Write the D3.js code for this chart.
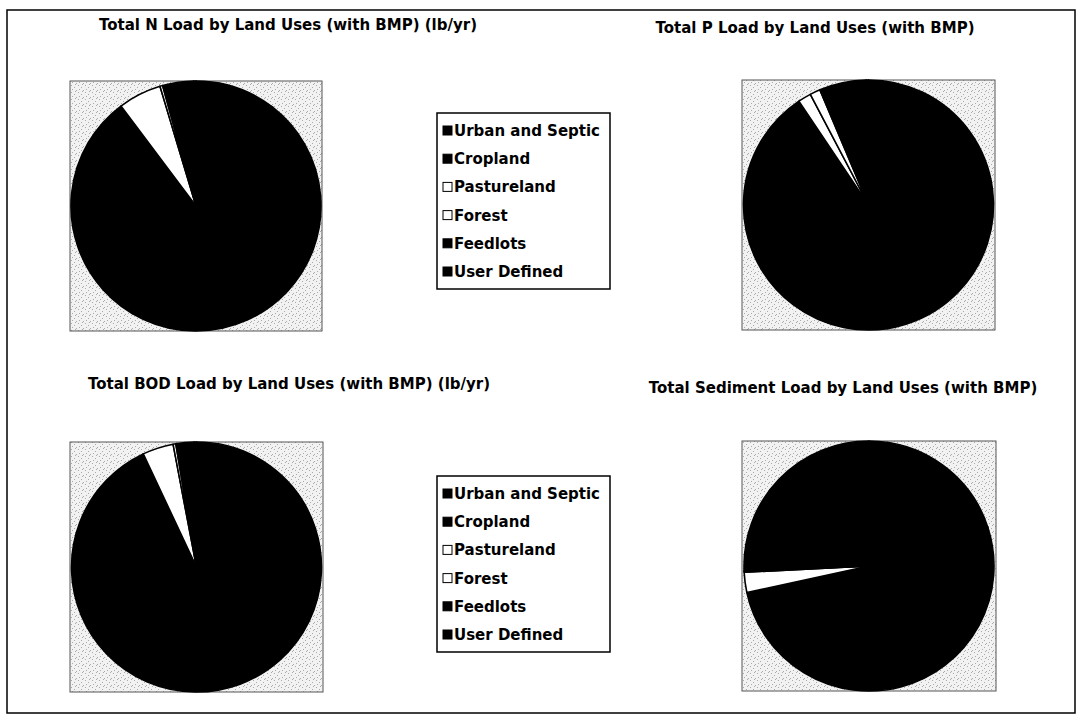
<!DOCTYPE html>
<html>
<head>
<meta charset="utf-8">
<script src="https://cdn.jsdelivr.net/npm/d3@7"></script>
<style>
  html, body { margin: 0; padding: 0; background: #fff; }
  svg { display: block; }
  text { font-family: "DejaVu Sans", "Liberation Sans", Arial, sans-serif; font-weight: bold; fill: #000; }
</style>
</head>
<body>
<svg id="chart" width="1078" height="719"></svg>
<script>
// ---- data ----
const categories = ["Urban and Septic", "Cropland", "Pastureland", "Forest", "Feedlots", "User Defined"];
const categoryFills = ["#000000", "#000000", "#ffffff", "#ffffff", "#000000", "#000000"];

const chartTitles = [
  "Total N Load by Land Uses (with BMP) (lb/yr)",
  "Total P Load by Land Uses (with BMP)",
  "Total BOD Load by Land Uses (with BMP) (lb/yr)",
  "Total Sediment Load by Land Uses (with BMP)"
];

// shares (%), in category order
const nLoad        = [10.5, 79.25, 5.6, 0.35, 4.0, 0.3];
const pLoad        = [30.0, 60.6, 1.7, 1.35, 6.05, 0.3];
const bodLoad      = [20.0, 73.0, 4.0, 0.35, 2.35, 0.3];
const sedimentLoad = [20.0, 51.6, 2.6, 0.15, 0.05, 25.6];

const seriesValues = [nLoad, pLoad, bodLoad, sedimentLoad];

// ---- layout ----
const svg = d3.select("#chart");
svg.append("rect").attr("width", 1078).attr("height", 719).attr("fill", "#fff");

const defs = svg.append("defs");
const pat = defs.append("pattern").attr("id", "stipple")
  .attr("width", 7).attr("height", 7).attr("patternUnits", "userSpaceOnUse");
pat.append("rect").attr("width", 7).attr("height", 7).attr("fill", "#f2f2f2");
[[1,1],[4,3],[2,5],[6,6],[5,0]].forEach(([x,y]) =>
  pat.append("rect").attr("x", x).attr("y", y).attr("width", 1).attr("height", 1).attr("fill", "#aaaaaa"));

// outer frame
svg.append("rect").attr("x", 7).attr("y", 10).attr("width", 1068).attr("height", 703)
  .attr("fill", "none").attr("stroke", "#000").attr("stroke-width", 1.5);

const panels = [
  { title: { x: 288, y: 30 },  box: { x: 70,  y: 81,  w: 252, h: 250 } },
  { title: { x: 815, y: 33 },  box: { x: 742, y: 80,  w: 253, h: 250 } },
  { title: { x: 289, y: 389 }, box: { x: 70,  y: 442, w: 253, h: 250 } },
  { title: { x: 843, y: 393 }, box: { x: 742, y: 441, w: 254, h: 250 } }
];

const pie = d3.pie().sort(null).value(d => d).startAngle(0).endAngle(2 * Math.PI);
const fillScale = d3.scaleOrdinal().domain(categories).range(categoryFills);

panels.forEach((p, i) => {
  const g = svg.append("g");
  g.append("text").attr("x", p.title.x).attr("y", p.title.y)
    .attr("text-anchor", "middle").attr("font-size", 15).text(chartTitles[i]);

  g.append("rect").attr("x", p.box.x).attr("y", p.box.y)
    .attr("width", p.box.w).attr("height", p.box.h)
    .attr("fill", "url(#stipple)").attr("stroke", "#555").attr("stroke-width", 1);

  const cx = p.box.x + p.box.w / 2, cy = p.box.y + p.box.h / 2;
  const r = Math.min(p.box.w, p.box.h) / 2;
  const arc = d3.arc().innerRadius(0).outerRadius(r);
  g.append("g").attr("transform", `translate(${cx},${cy})`)
    .selectAll("path")
    .data(pie(seriesValues[i]))
    .join("path")
    .attr("d", arc)
    .attr("fill", (d, k) => fillScale(categories[k]))
    .attr("stroke", "#000").attr("stroke-width", 1.6).attr("stroke-linejoin", "round");
});

// legends
const legends = [
  { x: 437, y: 113, w: 173, h: 176, step: 28.2 },
  { x: 437, y: 476, w: 173, h: 176, step: 28.2 }
];
legends.forEach(L => {
  const g = svg.append("g");
  g.append("rect").attr("x", L.x).attr("y", L.y).attr("width", L.w).attr("height", L.h)
    .attr("fill", "#fff").attr("stroke", "#000").attr("stroke-width", 1.5);
  const y0 = L.y + (L.h - L.step * (categories.length - 1)) / 2;
  const yScale = d3.scalePoint().domain(categories).range([y0, y0 + L.step * (categories.length - 1)]);
  const items = g.selectAll("g.item").data(categories).join("g")
    .attr("transform", c => `translate(${L.x + 6},${yScale(c)})`);
  items.append("rect").attr("x", 0).attr("y", -4.5).attr("width", 9).attr("height", 9)
    .attr("fill", c => fillScale(c)).attr("stroke", "#000").attr("stroke-width", 1);
  items.append("text").attr("x", 11).attr("y", 5.5).attr("font-size", 15).text(c => c);
});
</script>
</body>
</html>
